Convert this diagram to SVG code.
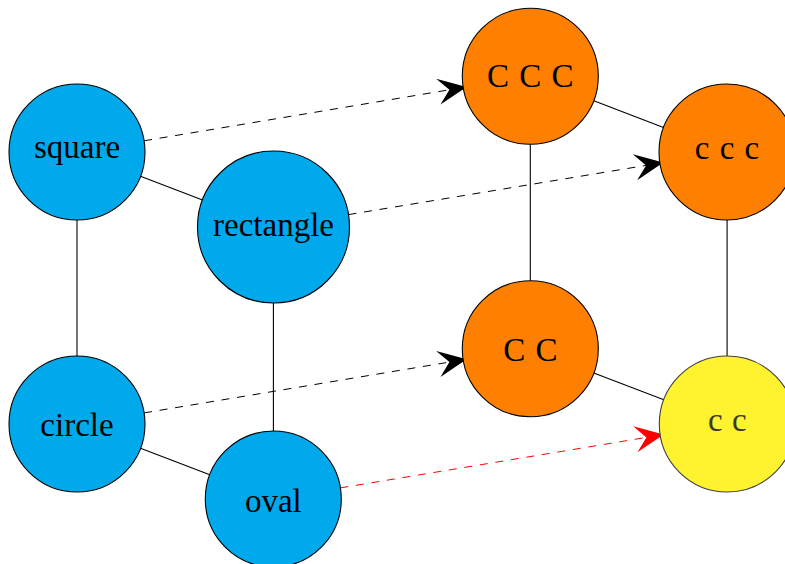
<svg xmlns="http://www.w3.org/2000/svg" width="785" height="564" viewBox="0 0 785 564">
<style>
.node circle{stroke:#000;stroke-width:1.1}
.blue{fill:#00A9EC}
.orange{fill:#FF8000}
.yellow{fill:#FFF22F;stroke:#3f3f3f !important}
.lbl{font-family:"Liberation Serif","DejaVu Serif",serif;font-size:33px;fill:#000;text-anchor:middle}
.edge{stroke:#000;stroke-width:1.1;fill:none}
.arrow{stroke:#000;stroke-width:1;fill:none;stroke-dasharray:8 7.7}
.red{stroke:#FF0000}
</style>
<defs>
<marker id="ah" markerUnits="userSpaceOnUse" markerWidth="40" markerHeight="30" viewBox="-10 -12 26 24" refX="0" refY="0" orient="auto" overflow="visible">
<path d="M14,0 L-9,-10.5 L0,0 L-9,10.5 Z" fill="#000"/>
</marker>
<marker id="ahr" markerUnits="userSpaceOnUse" markerWidth="40" markerHeight="30" viewBox="-10 -12 26 24" refX="0" refY="0" orient="auto" overflow="visible">
<path d="M14,0 L-9,-10.5 L0,0 L-9,10.5 Z" fill="#FF0000"/>
</marker>
</defs>
<rect width="785" height="564" fill="#fff"/>
<g id="connectors">
<line class="edge" x1="140.5" y1="176.3" x2="202.5" y2="199.9"/>
<line class="edge" x1="77" y1="220" x2="77" y2="356"/>
<line class="edge" x1="273.4" y1="303" x2="273.4" y2="431"/>
<line class="edge" x1="140.5" y1="448.3" x2="209.8" y2="474.7"/>
<line class="edge" x1="593.8" y1="100.7" x2="663.5" y2="127.6"/>
<line class="edge" x1="530.3" y1="144.3" x2="530.3" y2="280.7"/>
<line class="edge" x1="727.1" y1="220" x2="727.1" y2="356"/>
<line class="edge" x1="593.8" y1="373" x2="663.8" y2="399.7"/>
<line class="arrow" x1="144.1" y1="140.8" x2="449.4" y2="89.8" marker-end="url(#ah)"/>
<line class="arrow" x1="348.5" y1="214.6" x2="646.1" y2="165.4" marker-end="url(#ah)"/>
<line class="arrow" x1="144.1" y1="412.9" x2="449.4" y2="362.1" marker-end="url(#ah)"/>
<line class="arrow red" x1="340.4" y1="487.9" x2="646.4" y2="437.4" marker-end="url(#ahr)"/>
</g>
<g id="square" class="node"><circle class="blue" cx="77" cy="152" r="68"/><text class="lbl" x="77" y="157.5">square</text></g>
<g id="rectangle" class="node"><circle class="blue" cx="273.5" cy="227" r="76"/><text class="lbl" x="273.5" y="236">rectangle</text></g>
<g id="circle" class="node"><circle class="blue" cx="77" cy="424" r="68"/><text class="lbl" x="77" y="435.5">circle</text></g>
<g id="oval" class="node"><circle class="blue" cx="273.3" cy="499" r="68"/><text class="lbl" x="273.3" y="511.5">oval</text></g>
<g id="CCC" class="node"><circle class="orange" cx="530.3" cy="76.3" r="68"/><text class="lbl" x="530.3" y="87.3" xml:space="preserve" word-spacing="2">C C C</text></g>
<g id="ccc" class="node"><circle class="orange" cx="727" cy="152" r="68"/><text class="lbl" x="727" y="159.3" xml:space="preserve" word-spacing="2">c c c</text></g>
<g id="CC" class="node"><circle class="orange" cx="530.3" cy="348.7" r="68"/><text class="lbl" x="530.3" y="360.7" xml:space="preserve" word-spacing="2">C C</text></g>
<g id="cc" class="node"><circle class="yellow" cx="727.3" cy="424" r="68"/><text class="lbl" x="727.3" y="431" xml:space="preserve" word-spacing="1" style="fill:#3a3a26">c c</text></g>
</svg>
